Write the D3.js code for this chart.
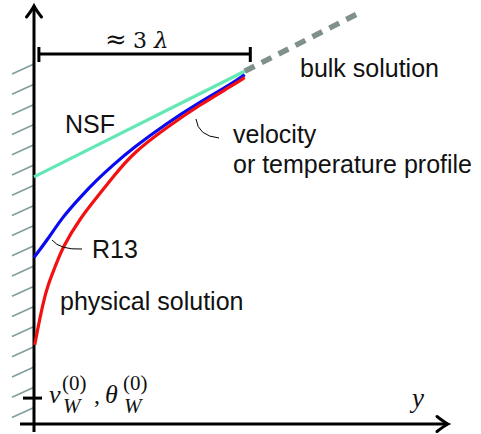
<!DOCTYPE html>
<html>
<head>
<meta charset="utf-8">
<script src="https://cdn.jsdelivr.net/npm/d3@7"></script>
<style>
  html, body { margin: 0; padding: 0; background: #fff; }
  svg text { font-family: "Liberation Sans", Arial, sans-serif; fill: #111; }
  svg text.math { font-family: "Liberation Serif", "DejaVu Serif", serif; }
  svg text.dv { font-family: "DejaVu Serif", serif; }
</style>
</head>
<body>
<svg id="chart" width="481" height="434"></svg>
<script>
// distance from the wall in mean free paths, profile value in arbitrary units
const nsfX = [0, 3.01];
const nsfV = [3.53, 5.04];

const r13X = [0, 0.19, 0.41, 0.66, 0.9, 1.13, 1.41, 1.9, 2.37, 2.84, 3.01];
const r13V = [2.38, 2.63, 2.96, 3.24, 3.49, 3.70, 3.94, 4.30, 4.60, 4.87, 4.99];

const physX = [0.01, 0.06, 0.13, 0.2, 0.3, 0.41, 0.66, 0.9, 1.13, 1.41, 1.9, 2.37, 2.84, 3.01];
const physV = [1.13, 1.39, 1.73, 1.99, 2.24, 2.53, 2.94, 3.24, 3.53, 3.87, 4.24, 4.56, 4.84, 4.95];

const bulkX = [3.01, 4.7];
const bulkV = [5.04, 5.9];

const wallValue = 0.37;      // v_W^(0), theta_W^(0)
const layerWidth = [0.07, 3.09]; // the "approx 3 lambda" bracket

const svg = d3.select("#chart");

const x = d3.scaleLinear().domain([0, 6]).range([34, 454]);
const y = d3.scaleLinear().domain([0, 6]).range([424, 4]);

const line = d3.line()
    .x(d => x(d[0]))
    .y(d => y(d[1]))
    .curve(d3.curveBasis);

const zip = (a, b) => a.map((v, i) => [v, b[i]]);

// wall hatching, drawn first so the axis sits on top
svg.append("g")
    .selectAll("line")
    .data(d3.range(18))
    .join("line")
    .attr("x1", 12)
    .attr("y1", i => 74 + i * 20.2)
    .attr("x2", x(0))
    .attr("y2", i => 64 + i * 20.2)
    .attr("stroke", "#7f9e9c")
    .attr("stroke-width", 1.6);

// axes as plain arrows
function arrowHead(tx, ty, angle) {
    svg.append("path")
        .attr("d", "M-11,-7.5 Q-4,-2 0,0 Q-4,2 -11,7.5")
        .attr("transform", `translate(${tx},${ty}) rotate(${angle})`)
        .attr("fill", "none")
        .attr("stroke", "#000")
        .attr("stroke-width", 3)
        .attr("stroke-linecap", "round");
}

svg.append("line")
    .attr("x1", x(0)).attr("y1", 432)
    .attr("x2", x(0)).attr("y2", 7)
    .attr("stroke", "#000").attr("stroke-width", 3);
arrowHead(x(0), 6, -90);

svg.append("line")
    .attr("x1", 20).attr("y1", y(0))
    .attr("x2", 446).attr("y2", y(0))
    .attr("stroke", "#000").attr("stroke-width", 3);
arrowHead(448, y(0), 0);

// wall value tick
svg.append("line")
    .attr("x1", 23).attr("x2", 42)
    .attr("y1", y(wallValue)).attr("y2", y(wallValue))
    .attr("stroke", "#000").attr("stroke-width", 3);

// curves
const curves = [
    { x: nsfX, v: nsfV, color: "#62e8b2" },
    { x: r13X, v: r13V, color: "#0a0af2" },
    { x: physX, v: physV, color: "#f21010" }
];

svg.append("g")
    .selectAll("path")
    .data(curves)
    .join("path")
    .attr("d", c => line(zip(c.x, c.v)))
    .attr("fill", "none")
    .attr("stroke", c => c.color)
    .attr("stroke-width", 3.2);

svg.append("path")
    .attr("d", d3.line().x(d => x(d[0])).y(d => y(d[1]))(zip(bulkX, bulkV)))
    .attr("fill", "none")
    .attr("stroke", "#7f908d")
    .attr("stroke-width", 5.5)
    .attr("stroke-dasharray", "11 8");

// bracket
const by = 54;
svg.append("line")
    .attr("x1", x(layerWidth[0])).attr("x2", x(layerWidth[1]))
    .attr("y1", by).attr("y2", by)
    .attr("stroke", "#000").attr("stroke-width", 3);
layerWidth.forEach(v => {
    svg.append("line")
        .attr("x1", x(v)).attr("x2", x(v))
        .attr("y1", by - 7).attr("y2", by + 8)
        .attr("stroke", "#000").attr("stroke-width", 3);
});
svg.append("text").attr("class", "dv")
    .attr("x", 105).attr("y", 48).attr("font-size", 26).text("≈");
svg.append("text").attr("class", "dv")
    .attr("x", 133).attr("y", 48).attr("font-size", 22).text("3");
svg.append("text").attr("class", "dv")
    .attr("x", 154).attr("y", 48).attr("font-size", 23)
    .attr("font-style", "italic").text("λ");

// callout strokes
svg.append("path")
    .attr("d", "M196,119 Q198,136 219,138")
    .attr("fill", "none").attr("stroke", "#000").attr("stroke-width", 1);
svg.append("path")
    .attr("d", "M52,240 Q60,250 82,249")
    .attr("fill", "none").attr("stroke", "#000").attr("stroke-width", 1);

// labels
const labels = [
    { t: "bulk solution", x: 300, y: 77 },
    { t: "velocity", x: 233, y: 143 },
    { t: "or temperature profile", x: 233, y: 173 },
    { t: "NSF", x: 65, y: 133 },
    { t: "R13", x: 92, y: 258 },
    { t: "physical solution", x: 60, y: 310 }
];
svg.append("g")
    .selectAll("text")
    .data(labels)
    .join("text")
    .attr("x", d => d.x)
    .attr("y", d => d.y)
    .attr("font-size", 25)
    .text(d => d.t);

// math labels
const math = svg.append("g").attr("class", "mathlabels");
function mathText(t, px, py, size, italic) {
    math.append("text")
        .attr("class", "math")
        .attr("x", px).attr("y", py)
        .attr("font-size", size)
        .attr("font-style", italic ? "italic" : "normal")
        .text(t);
}
mathText("v", 49, 403, 26, true);
mathText("(0)", 62, 390, 21, false);
mathText("W", 63, 413, 21, true);
mathText(",", 94, 403, 24, false);
mathText("θ", 105, 403, 26, true);
mathText("(0)", 123, 390, 21, false);
mathText("W", 124, 413, 21, true);
mathText("y", 412, 407, 27, true);
</script>
</body>
</html>
